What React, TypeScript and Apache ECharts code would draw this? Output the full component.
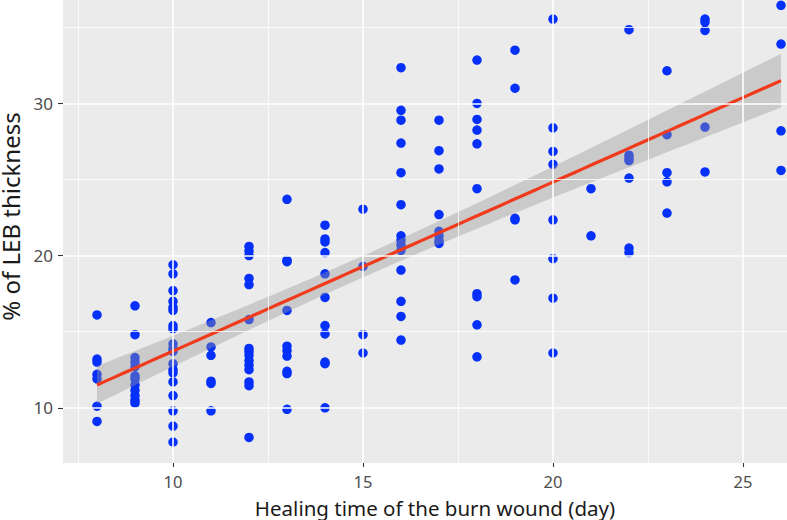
import React, { useEffect, useRef } from "react";
import * as echarts from "echarts";

// Healing time (days) and % of LEB thickness
const days = [8, 9, 10, 11, 12, 13, 14, 15, 16, 17, 18, 19, 20, 21, 22, 23, 24, 26];
const lebByDay: number[][] = [
  [16.1, 13.2, 13.0, 12.2, 11.9, 10.1, 9.1],
  [16.7, 14.8, 13.3, 13.0, 12.7, 12.1, 11.9, 11.5, 11.15, 10.8, 10.5, 10.3],
  [19.4, 18.8, 17.7, 17.0, 16.6, 16.4, 15.4, 15.2, 14.2, 13.9, 13.7, 12.9, 12.5, 12.3, 11.7, 10.8, 9.8, 8.8, 7.75],
  [15.6, 14.0, 13.45, 11.75, 11.6, 9.8],
  [20.6, 20.3, 20.0, 18.5, 18.1, 15.8, 13.9, 13.7, 13.45, 13.1, 12.8, 12.5, 11.7, 11.45, 8.05],
  [23.7, 19.7, 19.6, 16.4, 14.05, 13.75, 13.4, 12.4, 12.25, 9.9],
  [22.0, 21.1, 20.9, 20.2, 18.8, 17.25, 15.4, 14.85, 13.0, 12.9, 10.0],
  [23.05, 19.3, 14.8, 13.6],
  [32.35, 29.55, 28.9, 27.4, 25.45, 23.35, 21.3, 21.0, 20.7, 20.35, 19.05, 17.0, 16.0, 14.45],
  [28.9, 26.9, 25.7, 22.7, 21.6, 21.3, 21.0, 20.8],
  [32.85, 30.0, 28.95, 28.25, 27.35, 24.4, 17.5, 17.3, 15.45, 13.35],
  [33.5, 31.0, 22.45, 22.35, 18.4],
  [35.55, 28.4, 26.85, 26.0, 22.35, 19.8, 17.2, 13.6],
  [24.4, 21.3],
  [34.85, 26.6, 26.4, 26.25, 25.1, 20.5, 20.2],
  [32.15, 27.95, 25.45, 24.85, 22.8],
  [35.55, 35.35, 34.8, 28.45, 25.5],
  [36.45, 33.9, 28.2, 25.6],
];

// Fitted line values read at the first and last day
const fitEndDays = [8, 26];
const fitEndValues = [11.5, 31.5];

const xTicks = [10, 15, 20, 25];
const xMinorTicks = [7.5, 12.5, 17.5, 22.5];
const yTicks = [10, 20, 30];
const yMinorTicks = [15, 25, 35];

const xTitle = "Healing time of the burn wound (day)";
const yTitle = "% of LEB thickness";

export default function App() {
  const ref = useRef<HTMLDivElement>(null);

  useEffect(() => {
    if (!ref.current) return;
    const chart = echarts.init(ref.current, null, { renderer: "svg" });

    const points: number[][] = [];
    days.forEach((d, i) => lebByDay[i].forEach((v) => points.push([d, v])));

    const n = points.length;
    const mx = points.reduce((s, p) => s + p[0], 0) / n;
    let sxx = 0;
    points.forEach((p) => {
      sxx += (p[0] - mx) * (p[0] - mx);
    });
    const slope = (fitEndValues[1] - fitEndValues[0]) / (fitEndDays[1] - fitEndDays[0]);
    const predict = (x: number) => fitEndValues[0] + slope * (x - fitEndDays[0]);
    let sse = 0;
    points.forEach((p) => {
      const r = p[1] - predict(p[0]);
      sse += r * r;
    });
    const s = Math.sqrt(sse / (n - 2));
    const t = 1.975;
    const fitX: number[] = [];
    for (let i = 0; i <= 80; i++)
      fitX.push(fitEndDays[0] + ((fitEndDays[1] - fitEndDays[0]) * i) / 80);
    const fitY = fitX.map(predict);
    const se = fitX.map((x) => s * Math.sqrt(1 / n + ((x - mx) * (x - mx)) / sxx));
    const upper = fitY.map((y, i) => y + t * se[i]);
    const lower = fitY.map((y, i) => y - t * se[i]);

    const gridLines = [
      ...xTicks.map((v) => ({ xAxis: v, lineStyle: { width: 1.6 } })),
      ...xMinorTicks.map((v) => ({ xAxis: v, lineStyle: { width: 0.8 } })),
      ...yTicks.map((v) => ({ yAxis: v, lineStyle: { width: 1.6 } })),
      ...yMinorTicks.map((v) => ({ yAxis: v, lineStyle: { width: 0.8 } })),
    ];

    chart.setOption({
      animation: false,
      grid: {
        left: 63,
        right: 0,
        top: 0,
        bottom: 57,
        containLabel: false,
        outerBoundsMode: "none",
        show: true,
        backgroundColor: "#EBEBEB",
        borderWidth: 0,
      },
      xAxis: {
        type: "value",
        min: 7.105,
        max: 26.158,
        axisLine: { show: false },
        splitLine: { show: false },
        axisTick: {
          show: true,
          customValues: xTicks,
          length: 4,
          lineStyle: { color: "#333333", width: 1.1 },
        },
        axisLabel: {
          customValues: xTicks,
          color: "#4D4D4D",
          fontSize: 16.5,
          fontFamily: "Noto Sans",
          margin: 10,
        },
        name: xTitle,
        nameLocation: "middle",
        nameGap: 34,
        nameTextStyle: {
          color: "#1A1A1A",
          fontSize: 20.5,
          fontFamily: "Noto Sans",
          padding: [0, 0, 0, 20],
        },
      },
      yAxis: {
        type: "value",
        min: 6.37,
        max: 36.8,
        axisLine: { show: false },
        splitLine: { show: false },
        axisTick: {
          show: true,
          customValues: yTicks,
          length: 5,
          lineStyle: { color: "#333333", width: 1.1 },
        },
        axisLabel: {
          customValues: yTicks,
          color: "#4D4D4D",
          fontSize: 17,
          fontFamily: "Noto Sans",
          margin: 10,
        },
        name: yTitle,
        nameLocation: "middle",
        nameRotate: 90,
        nameGap: 35,
        nameTextStyle: {
          color: "#1A1A1A",
          fontSize: 24,
          lineHeight: 24,
          fontFamily: "Noto Sans",
          padding: [0, 0, 0, 30],
        },
      },
      series: [
        {
          type: "scatter",
          z: 1,
          data: [],
          silent: true,
          markLine: {
            silent: true,
            symbol: "none",
            label: { show: false },
            lineStyle: { color: "#FFFFFF", type: "solid" },
            data: gridLines,
          },
        },
        {
          type: "scatter",
          z: 2,
          data: points,
          symbolSize: 9.5,
          itemStyle: { color: "#0530FA", opacity: 1 },
        },
        {
          type: "custom",
          z: 3,
          silent: true,
          data: [[fitX[0], fitY[0]]],
          renderItem: (params: any, api: any) => {
            const pts: number[][] = [];
            for (let i = 0; i < fitX.length; i++) pts.push(api.coord([fitX[i], upper[i]]));
            for (let i = fitX.length - 1; i >= 0; i--) pts.push(api.coord([fitX[i], lower[i]]));
            return {
              type: "polygon",
              shape: { points: pts },
              style: { fill: "rgba(153,153,153,0.4)" },
            };
          },
        },
        {
          type: "line",
          z: 4,
          data: fitX.map((x, i) => [x, fitY[i]]),
          showSymbol: false,
          symbol: "none",
          lineStyle: { color: "#F03A1C", width: 3.2 },
        },
      ],
    });

    return () => chart.dispose();
  }, []);

  return (
    <div
      ref={ref}
      style={{ position: "absolute", left: 0, top: 0, width: 787, height: 520 }}
    />
  );
}
